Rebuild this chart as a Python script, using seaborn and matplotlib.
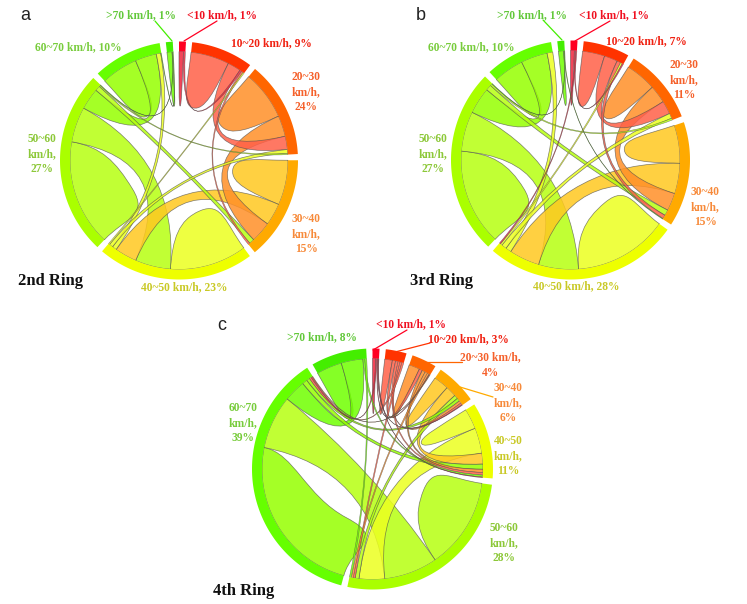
import numpy as np
import matplotlib
matplotlib.use('Agg')
import matplotlib.pyplot as plt
from matplotlib.path import Path
from matplotlib.patches import PathPatch
import seaborn as sns

# sector colours, slowest to fastest
sector_colors = ['#FF0022', '#FF3300', '#FF6600', '#FFAA00', '#EEFF00', '#AAFF00', '#66FF00', '#44EE00']
ribbon_colors = ['#F0243C', '#FF6048', '#FF9028', '#FFC820', '#ECFF20', '#B6FF10', '#96FF00', '#70FF00']
label_colors = ['#F01020', '#F02010', '#F5602A', '#F78A3A', '#C9C926', '#8CC838', '#78CC3C', '#62C83A']

ring2_labels = ['<10 km/h, 1%', '10~20 km/h, 9%', '20~30\nkm/h,\n24%', '30~40\nkm/h,\n15%',
                '40~50 km/h, 23%', '50~60\nkm/h,\n27%', '60~70 km/h, 10%', '>70 km/h, 1%']
ring3_labels = ['<10 km/h, 1%', '10~20 km/h, 7%', '20~30\nkm/h,\n11%', '30~40\nkm/h,\n15%',
                '40~50 km/h, 28%', '50~60\nkm/h,\n27%', '60~70 km/h, 10%', '>70 km/h, 1%']
ring4_labels = ['<10 km/h, 1%', '10~20 km/h, 3%', '20~30 km/h,\n4%', '30~40\nkm/h,\n6%',
                '40~50\nkm/h,\n11%', '50~60\nkm/h,\n28%', '60~70\nkm/h,\n39%', '>70 km/h, 8%']

# (colour sector, other sector, share in %), same sector twice = stays in that speed band
ring2_flows = [(0, 0, .7), (0, 1, .3), (1, 1, 6.1), (1, 2, 2.1), (1, 3, .3), (4, 1, .2),
               (2, 2, 7.8), (2, 3, 3.3), (4, 2, .6), (5, 2, .2), (3, 3, 7.1), (3, 4, 3.5), (5, 3, .8),
               (4, 4, 12.2), (5, 4, 5.6), (4, 6, .7), (5, 5, 16.8), (6, 5, 3.4), (7, 5, .1),
               (6, 6, 5.8), (7, 6, .1), (7, 7, .8)]
ring3_flows = [(0, 0, .6), (0, 1, .2), (0, 4, .2), (1, 1, 3.5), (1, 2, 2.1), (1, 3, .6), (4, 1, .3),
               (2, 2, 4.9), (2, 3, 2.8), (4, 2, .8), (5, 2, .3), (3, 3, 6.0), (3, 4, 4.8), (5, 3, .9), (7, 3, .1),
               (4, 4, 14.9), (5, 4, 6.3), (4, 6, .9), (5, 5, 15.2), (6, 5, 4.2), (7, 5, .1),
               (6, 6, 4.8), (7, 7, .8)]
ring4_flows = [(0, 0, .5), (0, 2, .1), (0, 3, .1), (0, 4, .1), (0, 6, .2), (1, 1, 1.2), (1, 2, .5),
               (1, 3, .3), (1, 4, .4), (1, 5, .3), (1, 6, .3), (2, 2, 1.7), (2, 3, .4), (2, 4, .5), (2, 5, .3),
               (2, 6, .1), (3, 3, 2.4), (3, 4, 1.7), (6, 3, .5), (5, 3, .6), (4, 4, 3.2),
               (4, 5, 4.0), (6, 4, .8), (7, 4, .3), (5, 5, 14.3), (5, 6, 8.4), (7, 5, .3), (6, 6, 25.7), (7, 6, 3.4),
               (7, 7, 4.0)]

# pixel layout of the three panels
GAP = 3.0
panels = [
    dict(flows=ring2_flows, labels=ring2_labels, center=(179, 160.5), radius=119, letter=('a', 25, 16),
         title=('2nd Ring', 51, 281),
         label_pos=[(222, 15), (271, 43), (306, 92), (306, 234), (184, 287), (42, 154), (78, 47), (141, 15)],
         leaders=[(0, (217, 21), (184, 41)), (7, (155, 21), (172, 41))]),
    dict(flows=ring3_flows, labels=ring3_labels, center=(570.5, 160), radius=119.5, letter=('b', 421, 16),
         title=('3rd Ring', 442, 281),
         label_pos=[(614, 15), (646, 41), (684, 80), (705, 207), (576, 286), (433, 154), (471, 47), (532, 15)],
         leaders=[(0, (610, 21), (575, 41)), (7, (543, 20), (562, 40))]),
    dict(flows=ring4_flows, labels=ring4_labels, center=(372.5, 469), radius=120.5, letter=('c', 222, 326),
         title=('4th Ring', 244, 591),
         label_pos=[(411, 324), (468, 339), (490, 365), (508, 403), (508, 456), (504, 543), (243, 423), (322, 337)],
         leaders=[(0, (407, 330), (373, 350)), (1, (430, 343), (395, 352)), (2, (462, 362), (423, 362)),
                  (3, (493, 397), (460, 387))]),
]


def polar(cx, cy, r, deg):
    t = np.radians(deg)
    return cx + r * np.sin(t), cy - r * np.cos(t)


def arc(cx, cy, r, d0, d1):
    ts = np.linspace(d0, d1, max(int(abs(d1 - d0)) + 2, 2))
    return [polar(cx, cy, r, t) for t in ts]


def draw_chord(ax, flows, center, radius, track, ribbon):
    cx, cy = center
    inner = radius - 10
    n = len(track)
    totals = np.zeros(n)
    for a, b, v in flows:
        totals[a] += v
        if a != b:
            totals[b] += v
    scale = (360 - GAP * n) / totals.sum()

    # every sector: self link first, then biggest flows clockwise
    slots = {}
    start = 0.0
    for i in range(n):
        ax.fill(*zip(*(arc(cx, cy, radius, start, start + totals[i] * scale) +
                       arc(cx, cy, inner, start + totals[i] * scale, start))),
                color=track[i], lw=0, zorder=3)
        mine = [(k, f) for k, f in enumerate(flows) if i in f[:2]]
        mine.sort(key=lambda m: (m[1][0] != m[1][1], -m[1][2]))
        pos = start
        for k, f in mine:
            slots[(k, i)] = (pos, pos + f[2] * scale)
            pos += f[2] * scale
        start += totals[i] * scale + GAP

    for k in sorted(range(len(flows)), key=lambda q: -flows[q][2]):
        a, b, v = flows[k]
        if a == b:
            # leaf shape, rounded tip about half way to the centre, wide leaves lean to their start
            a0, a1 = slots[(k, a)]
            pts = arc(cx, cy, inner, a0, a1)
            span = a1 - a0
            tip_deg = (a0 + a1) / 2 - .35 * span * span / 86
            mid = np.radians(tip_deg)
            c = np.array([cx, cy])
            tip = np.array(polar(cx, cy, inner * 0.5, tip_deg))
            tangent = np.array([np.cos(mid), np.sin(mid)])
            width = inner * np.sin(np.radians(span) / 2) * 0.62
            p0, p1 = np.array(pts[-1]), np.array(pts[0])
            verts = pts + [tuple(c + .72 * (p0 - c)), tuple(tip + tangent * width), tuple(tip),
                           tuple(tip - tangent * width), tuple(c + .72 * (p1 - c)), pts[0]]
            codes = [Path.MOVETO] + [Path.LINETO] * (len(pts) - 1) + [Path.CURVE4] * 6
        else:
            i, j = sorted((a, b))
            a0, a1 = slots[(k, i)]
            b0, b1 = slots[(k, j)]
            p1, p2 = arc(cx, cy, inner, a0, a1), arc(cx, cy, inner, b0, b1)
            verts = p1 + [center, p2[0]] + p2[1:] + [center, p1[0]]
            codes = ([Path.MOVETO] + [Path.LINETO] * (len(p1) - 1) + [Path.CURVE3] * 2 +
                     [Path.LINETO] * (len(p2) - 1) + [Path.CURVE3] * 2)
        edge_w = .5 if v >= .5 else .35
        ax.add_patch(PathPatch(Path(verts, codes), facecolor=(*ribbon[a], .85),
                               edgecolor=(.3, .3, .3, .7), lw=edge_w, zorder=2))


sns.set_theme(style='white')
palette = sns.color_palette(sector_colors)
ribbon_palette = sns.color_palette(ribbon_colors)

fig = plt.figure(figsize=(7.47, 6.04), dpi=100)
ax = fig.add_axes([0, 0, 1, 1])
ax.set_xlim(0, 747)
ax.set_ylim(604, 0)
ax.axis('off')

for p in panels:
    draw_chord(ax, p['flows'], p['center'], p['radius'], palette, ribbon_palette)
    for text, (x, y), col in zip(p['labels'], p['label_pos'], label_colors):
        ax.text(x, y, text, color=col, ha='center', va='center', family='Liberation Serif',
                weight='bold', fontsize=8.3, linespacing=1.35, zorder=5)
    for idx, start, end in p['leaders']:
        ax.plot([start[0], end[0]], [start[1], end[1]], color=palette[idx], lw=.9, zorder=4)
    s, x, y = p['letter']
    ax.text(x, y, s, ha='center', va='center', family='Liberation Sans', fontsize=13, color='#222222')
    s, x, y = p['title']
    ax.text(x, y, s, ha='center', va='center', family='Liberation Serif', weight='bold', fontsize=12, color='#111111')

fig.savefig('out.png', dpi=100)
